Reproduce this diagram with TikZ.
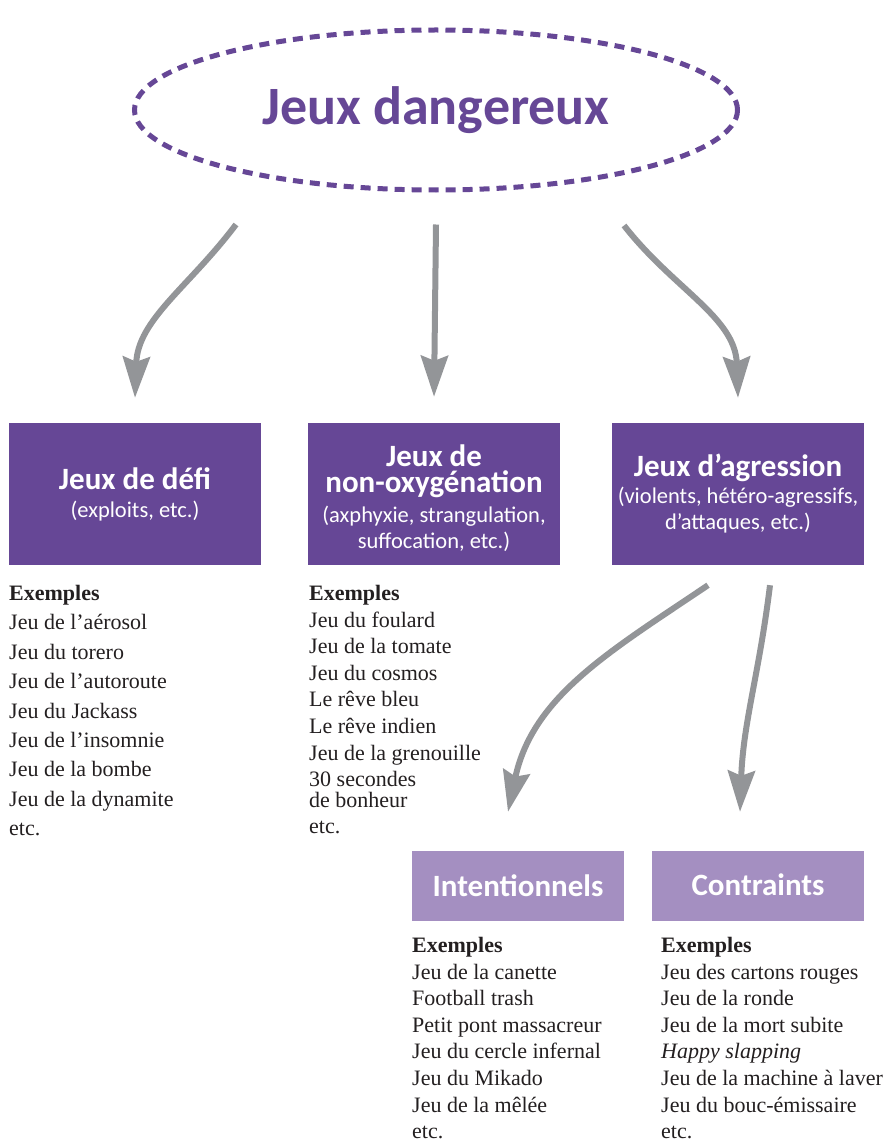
\documentclass[tikz,border=0pt]{standalone}
\usepackage{fontspec}
\setmainfont{Liberation Serif}
\newfontfamily\calib{Carlito}
\usetikzlibrary{arrows.meta,shapes.geometric}
\newcommand\grostitre[1]{{\bfseries\fontsize{31}{26}\selectfont #1}}
\begin{document}
\begin{tikzpicture}[x=1pt,y=-1pt,
  grosbox/.style={fill=violetfonce,text=white,minimum width=252pt,minimum height=142pt,inner sep=0pt,align=center,font=\calib\fontsize{22.5}{26}\selectfont},
  petitbox/.style={fill=violetclair,text=white,minimum width=212pt,minimum height=70pt,inner sep=0pt,font=\calib\bfseries\fontsize{31}{32}\selectfont},
  liste/.style={anchor=north west,inner sep=0pt,align=left,text=encre,font=\fontsize{22}{26.6}\selectfont},
  fleche/.style={draw=gris,line width=6pt,-{Stealth[length=41pt,width=27pt,inset=5pt]}}]
\definecolor{violetfonce}{HTML}{664796}
\definecolor{violetclair}{HTML}{A48FC1}
\definecolor{gris}{HTML}{939598}
\definecolor{encre}{HTML}{231F20}
\useasboundingbox (0,0) rectangle (890,1142);
% titre
\node[ellipse,draw=violetfonce,dash pattern=on 10pt off 7pt,line width=5pt,minimum width=603pt,minimum height=160pt,text=violetfonce,font=\calib\bfseries\fontsize{54}{60}\selectfont] (titre) at (436,110) {\raisebox{5pt}{Jeux dangereux}};
% les trois familles
\node[grosbox] (defi) at (135,494) {\grostitre{Jeux de défi}\\[2pt](exploits, etc.)};
\node[grosbox] (oxy) at (434,494) {\grostitre{\rule{0pt}{31pt}Jeux de}\\\grostitre{non-oxygénation}\\[4pt](axphyxie, strangulation,\\suffocation, etc.)};
\node[grosbox] (agr) at (738,494) {\grostitre{Jeux d’agression}\\[1pt](violents, hétéro-agressifs,\\d’attaques, etc.)};
\node[petitbox] (inten) at (518,886) {Intentionnels};
\node[petitbox] (contr) at (758,886) {\raisebox{2pt}{Contraints}};
% fleches
\draw[fleche] ([shift={(-200pt,-32pt)}]titre.south) to[out=-127,in=88] ([yshift=25pt]defi.north);
\draw[fleche] ([yshift=-32pt]titre.south) -- ([yshift=26pt]oxy.north);
\draw[fleche] ([shift={(188pt,-33pt)}]titre.south) to[out=-52,in=92] ([yshift=25pt]agr.north);
\draw[fleche] ([shift={(-30pt,-20pt)}]agr.south) to[out=-146,in=78] ([shift={(-10pt,39pt)}]inten.north);
\draw[fleche] ([shift={(32pt,-20pt)}]agr.south) to[out=-97,in=88] ([shift={(-18pt,39pt)}]contr.north);
% exemples
\node[liste,font=\fontsize{22}{29.4}\selectfont] (ex1) at (9,585) {\textbf{Exemples}\\Jeu de l’aérosol\\Jeu du torero\\Jeu de l’autoroute\\Jeu du Jackass\\Jeu de l’insomnie\\Jeu de la bombe\\Jeu de la dynamite\\etc.};
\node[liste] (ex2) at (309,585) {\textbf{Exemples}\\Jeu du foulard\\Jeu de la tomate\\Jeu du cosmos\\Le rêve bleu\\Le rêve indien\\Jeu de la grenouille\\30 secondes\\[-6pt]de bonheur\\[0pt]etc.};
\node[liste] (ex3) at (412,937) {\textbf{Exemples}\\Jeu de la canette\\Football trash\\Petit pont massacreur\\Jeu du cercle infernal\\Jeu du Mikado\\Jeu de la mêlée\\etc.};
\node[liste] (ex4) at (661,937) {\textbf{Exemples}\\Jeu des cartons rouges\\Jeu de la ronde\\Jeu de la mort subite\\\textit{Happy slapping}\\Jeu de la machine à laver\\Jeu du bouc-émissaire\\etc.};
\end{tikzpicture}
\end{document}
